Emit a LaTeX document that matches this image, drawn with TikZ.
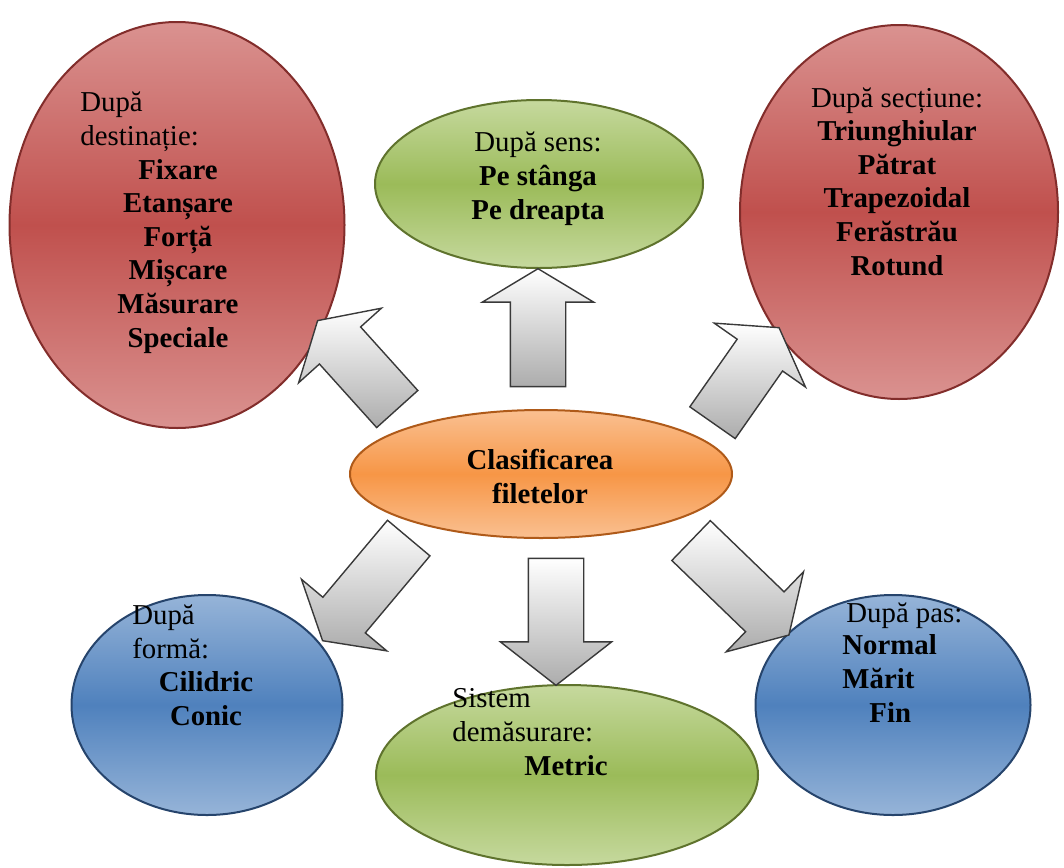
\documentclass[tikz,border=0pt]{standalone}
\usepackage{fontspec}
\setmainfont{Liberation Serif}
\usetikzlibrary{shapes.geometric,shapes.arrows}
\definecolor{reddk}{RGB}{192,80,77}
\definecolor{redlt}{RGB}{218,146,144}
\definecolor{redln}{RGB}{130,45,43}
\definecolor{grndk}{RGB}{155,187,89}
\definecolor{grnlt}{RGB}{198,217,158}
\definecolor{grnln}{RGB}{95,115,45}
\definecolor{bludk}{RGB}{79,129,189}
\definecolor{blult}{RGB}{150,180,216}
\definecolor{bluln}{RGB}{38,68,108}
\definecolor{orgdk}{RGB}{247,150,70}
\definecolor{orglt}{RGB}{250,192,145}
\definecolor{orgln}{RGB}{175,90,25}

\begin{document}
\begin{tikzpicture}[x=0.5pt, y=-0.5pt,
  oval/.style={ellipse, line width=1pt, inner sep=0pt},
  redov/.style={oval, draw=redln, top color=redlt, bottom color=redlt, middle color=reddk},
  grnov/.style={oval, draw=grnln, top color=grnlt, bottom color=grnlt, middle color=grndk},
  bluov/.style={oval, draw=bluln, top color=blult, bottom color=blult, middle color=bludk},
  orgov/.style={oval, draw=orgln, top color=orglt, bottom color=orglt, middle color=orgdk},
  blk/.style={single arrow, draw=gray!45!black, line width=0.7pt,
              inner xsep=0pt, inner ysep=13.5pt,
              minimum width=55pt, single arrow head extend=14pt,
              single arrow tip angle=118, top color=white, bottom color=gray!65},
  txt/.style={font=\fontsize{14.4}{16.8}\selectfont, inner sep=0pt},
  hd/.style={txt, align=left, anchor=base west},
  lst/.style={txt, align=center, anchor=base, font=\fontsize{14.4}{16.8}\selectfont\bfseries}
]
  \useasboundingbox (0,0) rectangle (1064,867);

  % outer groups
  \node[redov, minimum width=167.5pt, minimum height=203pt] (dest) at (177,225) {};
  \node[grnov, minimum width=164pt, minimum height=84pt]    (sens) at (539,184) {};
  \node[redov, minimum width=159pt, minimum height=187pt]   (sect) at (899,212) {};
  \node[bluov, minimum width=135.5pt, minimum height=110pt] (forma) at (207,705) {};
  \node[grnov, minimum width=191pt, minimum height=90pt]    (metr) at (567,775) {};
  \node[bluov, minimum width=137.5pt, minimum height=110pt] (pas) at (893,705) {};

  % block arrows
  \node[blk, minimum height=59pt, rotate=90]  (aup) at (538,336) {};
  \node[blk, minimum height=59.5pt, rotate=132] (aul) at (363,371) {};
  \node[blk, minimum height=58pt, rotate=55]  (aur) at (741,382) {};
  \node[blk, minimum height=67pt, rotate=230] (all) at (371,583) {};
  \node[blk, minimum height=63.5pt, rotate=270, single arrow tip angle=104] (adn) at (556,611) {};
  \node[blk, minimum height=68pt, rotate=-44] (alr) at (734,582) {};

  \node[orgov, minimum width=191pt, minimum height=64pt] (clas) at (541,474) {};

  % texts (base = last line)
  \node[lst] (clasTx) at (540,503) {Clasificarea\\filetelor};

  \node[hd]  (destHd) at (80,145) {După\\destinație:};
  \node[lst] (destTx) at (178,347) {Fixare\\Etanșare\\Forță\\Mișcare\\Măsurare\\Speciale};

  \node[txt, align=center, anchor=base] (sensTx) at (538,219)
       {După sens:\\\textbf{Pe stânga}\\\textbf{Pe dreapta}};

  \node[txt, align=center, anchor=base] (sectTx) at (897,275)
       {După secțiune:\\\textbf{Triunghiular}\\\textbf{Pătrat}\\\textbf{Trapezoidal}\\\textbf{Ferăstrău}\\\textbf{Rotund}};

  \node[hd]  (formaHd) at (132,658) {După\\formă:};
  \node[lst] (formaTx) at (206,725) {Cilidric\\Conic};

  \node[hd]  (metrHd) at (452,741) {Sistem\\demăsurare:};
  \node[lst] (metrTx) at (566,775) {Metric};

  \node[hd]  (pasHd) at (846,622) {După pas:};
  \node[hd, font=\fontsize{14.4}{16.8}\selectfont\bfseries] (pasTx) at (842,722)
       {Normal\\Mărit\\\hspace*{13.5pt}Fin};
\end{tikzpicture}
\end{document}
